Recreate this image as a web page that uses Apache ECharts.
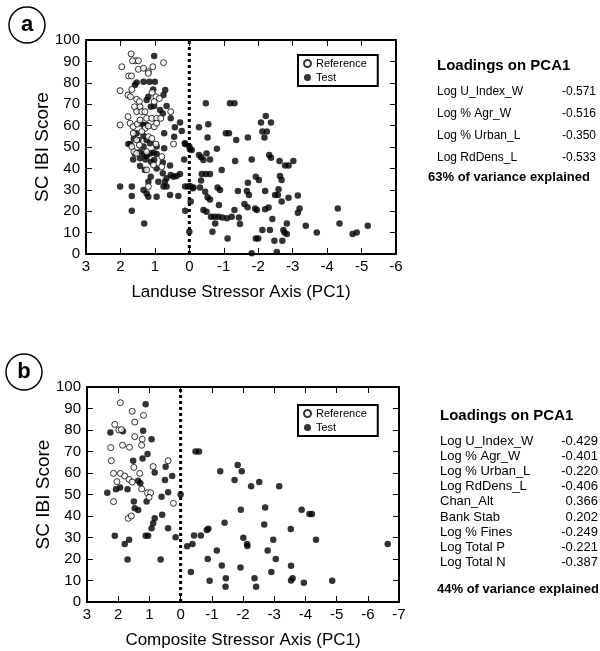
<!DOCTYPE html>
<html>
<head>
<meta charset="utf-8">
<script src="https://cdn.jsdelivr.net/npm/echarts@6/dist/echarts.min.js"></script>
<style>
  html, body { margin: 0; padding: 0; background: #fff; }
  #chart { width: 600px; height: 651px; }
</style>
</head>
<body>
<div id="chart"></div>
<script>
// panel a: landuse stressor axis (PC1) vs SC IBI score
const refA = [
  [1.69, 93.5], [1.56, 90.3], [1.48, 90.3], [1.65, 90.3], [1.96, 87.5], [1.48, 86.3], [1.33, 86.8],
  [1.19, 85.2], [1.06, 87.5], [0.75, 89.4], [1.19, 84.4], [1.76, 83.2], [1.68, 83.2], [2.01, 76.3],
  [1.67, 76.9], [1.78, 74.3], [1.71, 73.5], [1.53, 72.3], [1.45, 71.2], [1.59, 68.8], [1.43, 68.8],
  [1.53, 66.5], [1.38, 66.5], [1.29, 66.5], [0.97, 73.5], [0.87, 72.7], [1.08, 75.5], [1.02, 71.2],
  [0.54, 66.5], [1.78, 64.2], [2.01, 60.3], [1.72, 61.1], [1.63, 59.5], [1.51, 60.7], [1.43, 62.6],
  [1.24, 63.4], [1.09, 63.4], [0.95, 63.4], [0.83, 63.4], [1.29, 58.7], [1.19, 59.8], [1.02, 59.5],
  [0.95, 61.1], [1.63, 56.4], [1.38, 57.2], [1.53, 53.3], [1.19, 54.8], [1.09, 54.0], [1.45, 50.9],
  [0.97, 51.4], [0.46, 51.4], [1.67, 50.2], [1.61, 47.8], [1.53, 47.0], [1.24, 47.8], [0.80, 45.5],
  [1.04, 41.6], [0.80, 40.8], [1.24, 39.3], [1.19, 31.5]
];
const testA = [
  [1.02, 92.5], [1.53, 80.1], [1.58, 79.0], [1.16, 80.5], [1.00, 80.5], [1.05, 76.9], [0.70, 76.6],
  [1.33, 80.5], [1.19, 73.5], [0.75, 74.3], [1.24, 72.0], [0.85, 67.3], [0.66, 69.2], [0.77, 65.7],
  [0.54, 63.4], [1.12, 68.8], [1.02, 69.2], [1.43, 61.1], [1.33, 60.3], [1.24, 60.3], [0.42, 59.2],
  [0.27, 61.4], [0.22, 57.5], [0.73, 56.4], [0.44, 54.8], [1.53, 56.4], [1.61, 54.0], [1.48, 53.3],
  [1.33, 55.1], [1.24, 53.3], [1.14, 51.7], [1.77, 51.4], [1.71, 51.4], [1.33, 50.2], [0.95, 50.2],
  [0.73, 49.4], [0.12, 51.4], [0.00, 50.2], [1.58, 47.0], [1.43, 47.8], [1.31, 46.7], [1.24, 45.8],
  [1.14, 47.0], [1.04, 47.4], [0.95, 46.7], [1.43, 44.7], [1.63, 44.2], [1.27, 44.2], [1.11, 43.1],
  [1.02, 43.9], [0.77, 42.7], [1.43, 41.1], [1.29, 39.3], [0.56, 41.3], [0.15, 44.2], [0.95, 40.0],
  [0.77, 37.7], [1.12, 36.1], [0.54, 36.9], [0.46, 36.1], [0.37, 36.4], [0.27, 37.4], [0.66, 35.4],
  [0.71, 33.8], [1.19, 33.8], [0.90, 33.8], [2.01, 31.5], [1.67, 31.5], [1.33, 29.9], [1.24, 28.3],
  [1.19, 26.8], [0.95, 26.8], [0.75, 31.5], [0.66, 31.5], [0.56, 27.6], [0.32, 27.1], [1.67, 27.1],
  [0.12, 31.5], [0.03, 31.5], [-0.10, 30.7], [1.67, 20.2], [0.12, 20.2], [1.31, 14.3], [0.00, 10.4],
  [-0.04, 24.5], [-0.07, 48.6],
  [-0.48, 70.4], [-1.18, 70.4], [-1.31, 70.4], [-2.22, 64.5], [-2.08, 61.4], [-2.37, 61.4], [-0.28, 59.2],
  [-0.55, 60.6], [-2.12, 57.2], [-2.25, 57.2], [-1.06, 56.4], [-1.15, 56.4], [-0.53, 54.4], [-1.36, 53.3],
  [-1.70, 54.4], [-2.18, 54.4], [0.13, 51.7], [-0.02, 48.9], [-0.80, 49.2], [-0.28, 46.3], [-0.34, 45.2],
  [-0.41, 43.9], [-0.50, 47.0], [-0.60, 44.2], [-1.33, 43.4], [-1.81, 44.2], [-2.32, 46.3], [-2.37, 45.0],
  [-2.62, 43.4], [-2.78, 41.3], [-2.88, 41.3], [-3.02, 43.4], [-0.94, 39.2], [-0.36, 37.4], [-0.48, 37.4],
  [-0.60, 37.4], [-1.93, 36.1], [-2.02, 34.6], [-2.63, 36.4], [-2.68, 34.6], [-0.34, 34.3], [-1.70, 33.3],
  [-0.02, 31.8], [-0.12, 31.1], [-0.31, 31.1], [-0.82, 31.1], [-0.89, 29.9], [-1.41, 29.4], [-1.67, 29.4],
  [-1.73, 27.6], [-2.20, 29.4], [-2.59, 30.2], [-2.49, 27.6], [-2.57, 27.6], [-0.46, 29.1], [-0.53, 26.5],
  [-0.60, 25.5], [-2.68, 24.5], [-0.86, 22.9], [-1.60, 23.4], [-1.69, 21.8], [-1.91, 21.3], [-1.96, 20.6],
  [-2.20, 20.9], [-2.30, 21.7], [-0.41, 20.6], [-0.50, 19.8], [-1.31, 20.6], [-0.63, 17.4], [-0.73, 17.4],
  [-0.84, 17.4], [-0.96, 17.1], [-1.09, 16.7], [-1.23, 17.4], [-1.44, 17.1], [-1.47, 14.0], [-0.75, 14.3],
  [-0.67, 10.4], [-1.11, 7.3], [-1.93, 7.3], [-2.00, 7.3], [-2.12, 11.2], [-2.34, 11.2], [-2.41, 16.3],
  [-2.47, 6.2], [-2.70, 6.2], [-2.76, 10.0], [-2.83, 9.4], [-2.73, 11.2], [-1.81, 0.3], [-2.54, 0.9],
  [-2.88, 26.3], [-3.15, 27.3], [-3.20, 21.3], [-3.15, 19.3], [-2.83, 14.3], [-3.38, 13.2], [-3.70, 10.1],
  [-4.31, 21.3], [-4.36, 14.3], [-4.74, 9.3], [-4.86, 10.1], [-5.18, 13.2]
];

// panel b: composite stressor axis (PC1) vs SC IBI score
const refB = [
  [1.93, 92.7], [1.55, 88.7], [1.19, 86.8], [1.47, 83.7], [2.11, 82.6], [1.98, 80.0], [1.90, 80.2],
  [1.47, 76.9], [1.23, 75.7], [1.25, 72.9], [1.86, 72.9], [1.64, 72.0], [2.24, 71.8], [2.22, 65.7],
  [1.50, 62.6], [0.88, 63.0], [0.40, 65.7], [2.15, 59.8], [1.93, 59.8], [1.79, 58.6], [2.04, 56.0],
  [1.65, 57.0], [1.55, 55.8], [1.31, 59.8], [1.25, 52.6], [1.06, 50.8], [0.96, 50.8], [1.01, 48.7],
  [0.23, 45.9], [2.15, 46.7], [1.68, 38.9], [1.58, 40.0]
];
const testB = [
  [1.12, 92.0], [2.25, 78.8], [1.85, 79.4], [1.20, 79.7], [0.93, 75.7], [1.52, 65.7], [1.06, 68.8],
  [1.22, 66.7], [0.83, 60.2], [0.48, 62.9], [0.27, 58.6], [0.50, 56.7], [1.36, 56.4], [1.29, 55.2],
  [2.35, 50.8], [2.07, 52.4], [1.94, 53.3], [1.70, 52.4], [0.40, 51.0], [1.09, 46.8], [0.61, 49.0],
  [0.00, 50.0], [1.50, 46.8], [1.47, 43.6], [1.36, 42.8], [0.83, 39.0], [0.88, 36.6], [0.93, 34.3],
  [0.59, 40.6], [0.40, 34.3], [2.11, 30.8], [1.12, 30.8], [1.04, 30.8], [0.16, 30.1], [1.65, 28.9],
  [1.79, 27.0], [1.70, 19.8], [0.64, 19.8],
  [-0.48, 70.0], [-0.59, 70.0], [-1.83, 63.7], [-1.27, 60.8], [-1.96, 60.8], [-1.73, 56.7], [-2.52, 55.8],
  [-2.26, 53.8], [-3.16, 53.8], [-1.93, 42.9], [-2.71, 43.9], [-3.88, 42.9], [-4.13, 40.9], [-4.21, 40.9],
  [-1.41, 36.9], [-2.68, 36.0], [-0.89, 34.1], [-0.84, 33.5], [-3.53, 34.0], [-0.43, 30.9], [-0.65, 30.9],
  [-2.01, 29.9], [-2.13, 27.0], [-2.14, 26.0], [-2.97, 29.0], [-4.34, 29.0], [-0.38, 27.0], [-0.21, 25.9],
  [-6.64, 27.0], [-1.16, 24.0], [-2.79, 24.0], [-0.87, 20.0], [-3.05, 20.0], [-1.32, 17.0], [-1.92, 16.0],
  [-3.54, 16.9], [-0.33, 14.0], [-2.91, 14.0], [-1.45, 11.0], [-2.37, 11.0], [-3.59, 11.0], [-3.54, 10.0],
  [-0.93, 9.9], [-3.95, 9.0], [-4.86, 9.9], [-1.44, 7.1], [-2.42, 7.1]
];

// loadings tables
const loadNamesA = ['Log U_Index_W', 'Log % Agr_W', 'Log % Urban_L', 'Log RdDens_L'];
const loadValsA = ['-0.571', '-0.516', '-0.350', '-0.533'];
const varA = '63% of variance explained';
const loadNamesB = ['Log U_Index_W', 'Log % Agr_W', 'Log % Urban_L', 'Log RdDens_L', 'Chan_Alt',
  'Bank Stab', 'Log % Fines', 'Log Total P', 'Log Total N'];
const loadValsB = ['-0.429', '-0.401', '-0.220', '-0.406', '0.366', '0.202', '-0.249', '-0.221', '-0.387'];
const varB = '44% of variance explained';

const FONT = '"Liberation Sans", Arial, Helvetica, sans-serif';

const chart = echarts.init(document.getElementById('chart'));

// axes for one panel: bottom/left with labels, top/right with inward ticks only
function makeX(grid, min, name) {
  const base = {
    gridIndex: grid, type: 'value', min: min, max: 3, interval: 1, inverse: true,
    splitLine: { show: false },
    axisLine: { onZero: false, lineStyle: { color: '#000', width: 2 } },
    axisTick: { inside: true, length: 6, lineStyle: { color: '#000', width: 1 } }
  };
  return [
    Object.assign({}, base, {
      position: 'bottom', name: name, nameLocation: 'middle', nameGap: 30, nameMoveOverlap: false,
      nameTextStyle: { fontFamily: FONT, fontSize: 17, color: '#000' },
      axisLabel: { fontFamily: FONT, fontSize: 15, color: '#000', margin: 5 }
    }),
    Object.assign({}, base, { position: 'top', axisLabel: { show: false } })
  ];
}
function makeY(grid) {
  const base = {
    gridIndex: grid, type: 'value', min: 0, max: 100, interval: 10,
    splitLine: { show: false },
    axisLine: { onZero: false, lineStyle: { color: '#000', width: 2 } },
    axisTick: { inside: true, length: 6, lineStyle: { color: '#000', width: 1 } }
  };
  return [
    Object.assign({}, base, {
      position: 'left', name: 'SC IBI Score', nameLocation: 'middle', nameGap: 34, nameMoveOverlap: false,
      nameTextStyle: { fontFamily: FONT, fontSize: 19, color: '#000' },
      axisLabel: { fontFamily: FONT, fontSize: 15, color: '#000', margin: 6 }
    }),
    Object.assign({}, base, { position: 'right', axisLabel: { show: false } })
  ];
}

const openStyle = { color: '#fff', borderColor: '#000', borderWidth: 1 };
const fillStyle = { color: '#000' };

function panelSeries(i, refData, testData) {
  return [
    {
      type: 'line', xAxisIndex: i * 2, yAxisIndex: i * 2, data: [[0, 0], [0, 100]],
      symbol: 'none', silent: true, z: 1,
      lineStyle: { color: '#000', width: 3, type: [3, 3] }
    },
    {
      name: 'Reference', type: 'scatter', xAxisIndex: i * 2, yAxisIndex: i * 2,
      data: refData, symbolSize: 6, itemStyle: openStyle, z: 3
    },
    {
      name: 'Test', type: 'scatter', xAxisIndex: i * 2, yAxisIndex: i * 2,
      data: testData, symbolSize: 6.5, itemStyle: fillStyle, z: 2
    }
  ];
}

function legendAt(left, top) {
  return {
    data: ['Reference', 'Test'], orient: 'vertical', left: left, top: top,
    itemWidth: 7, itemHeight: 7, itemGap: 3, padding: [3, 11, 3, 5],
    borderColor: '#000', borderWidth: 2, selectedMode: false,
    textStyle: { fontFamily: FONT, fontSize: 11, color: '#000' }
  };
}

function textBlock(x, yTitle, names, vals, yRows, rowGap, valRight, rowFont, varText, varX, varY) {
  const els = [{
    type: 'text', left: x, top: yTitle - 9,
    style: { text: 'Loadings on PCA1', fontFamily: FONT, fontSize: 15, fontWeight: 'bold', fill: '#000' }
  }];
  names.forEach((n, k) => {
    els.push({
      type: 'text', x: x, y: yRows + k * rowGap,
      style: { text: n, fontFamily: FONT, fontSize: rowFont, fill: '#000', verticalAlign: 'middle' }
    });
    els.push({
      type: 'text', x: valRight, y: yRows + k * rowGap,
      style: { text: vals[k], fontFamily: FONT, fontSize: rowFont, fill: '#000', align: 'right', verticalAlign: 'middle' }
    });
  });
  els.push({
    type: 'text', x: varX, y: varY,
    style: { text: varText, fontFamily: FONT, fontSize: 13, fontWeight: 'bold', fill: '#000', verticalAlign: 'middle' }
  });
  return els;
}

function panelLetter(cx, cy, letter) {
  return [
    { type: 'circle', shape: { cx: cx, cy: cy, r: 18 }, style: { fill: '#fff', stroke: '#000', lineWidth: 1.5 } },
    {
      type: 'text', x: cx, y: cy,
      style: { text: letter, fontFamily: FONT, fontSize: 22, fontWeight: 'bold', fill: '#000', align: 'center', verticalAlign: 'middle' }
    }
  ];
}

const option = {
  backgroundColor: '#fff',
  animation: false,
  grid: [
    { left: 86, top: 40, width: 310, height: 214 },
    { left: 87, top: 387, width: 312, height: 215 }
  ],
  xAxis: makeX(0, -6, 'Landuse Stressor Axis (PC1)').concat(makeX(1, -7, 'Composite Stressor Axis (PC1)')),
  yAxis: makeY(0).concat(makeY(1)),
  legend: [legendAt(298, 55), legendAt(298, 405)],
  series: panelSeries(0, refA, testA).concat(panelSeries(1, refB, testB)),
  graphic: [].concat(
    panelLetter(27, 25, 'a'),
    panelLetter(24, 372, 'b'),
    textBlock(437, 67, loadNamesA, loadValsA, 92, 22, 596, 12, varA, 428, 177),
    textBlock(440, 417, loadNamesB, loadValsB, 441, 15.2, 598, 13, varB, 437, 589)
  )
};

chart.setOption(option);
</script>
</body>
</html>
